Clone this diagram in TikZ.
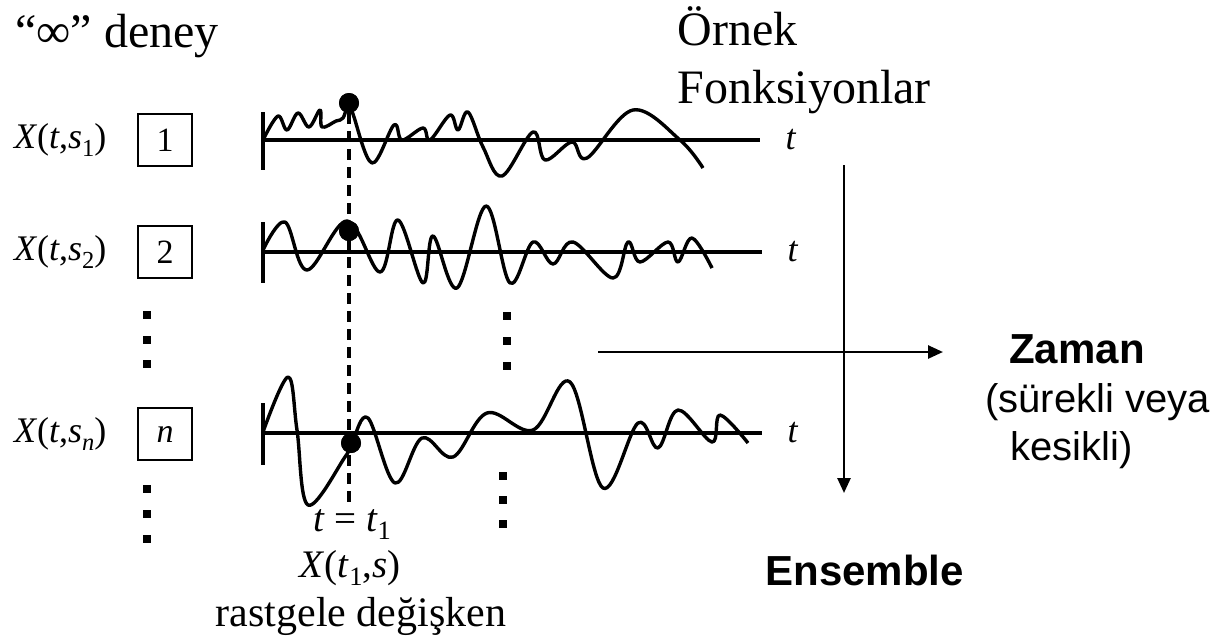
\documentclass[tikz,border=0pt]{standalone}
\usepackage{fontspec}
\setmainfont{Liberation Serif}
\setsansfont{Liberation Sans}
\usetikzlibrary{positioning,arrows.meta}
\newcommand{\lowsub}[1]{\raisebox{-0.22em}{\scalebox{0.68}{#1}}}

\begin{document}
\begin{tikzpicture}[x=0.5pt,y=-0.5pt,
  txt/.style={inner sep=0pt,font=\fontsize{24}{28}\selectfont},
  lbl/.style={inner sep=0pt,font=\fontsize{18}{21}\selectfont},
  lblbig/.style={inner sep=0pt,font=\fontsize{19.5}{22}\selectfont},
  sans/.style={inner sep=0pt,font=\sffamily\fontsize{20}{24}\selectfont},
  sansbold/.style={inner sep=0pt,font=\sffamily\bfseries\fontsize{21}{24}\selectfont},
  trial/.style={draw,line width=1.2pt,minimum width=27pt,minimum height=26pt,inner sep=0pt,font=\fontsize{17}{20}\selectfont},
  wave/.style={line width=1.7pt,line join=round},
  axis/.style={line width=1.7pt},
  hit/.style={circle,fill,inner sep=0pt,minimum size=10pt},
  sq/.style={fill,inner sep=0pt,minimum size=4.2pt}]
\useasboundingbox (0,0) rectangle (1210,639);

% titles
\node[txt,anchor=base west] (deney) at (15,47) {“∞” deney};
\node[txt,anchor=base west] (ornek) at (677,45) {Örnek};
\node[txt,anchor=base west] (fonk) at (677,103) {Fonksiyonlar};

% trials
\node[trial] (b1) at (165,140) {1};
\node[trial] (b2) at (165,252) {2};
\node[trial] (bn) at (165,434) {\textit{n}};
\node[lbl,left=15pt of b1] (x1) {\textit{X}(\textit{t},\textit{s}\lowsub{1})};
\node[lbl,left=15pt of b2] (x2) {\textit{X}(\textit{t},\textit{s}\lowsub{2})};
\node[lbl,left=15pt of bn] (xn) {\textit{X}(\textit{t},\textit{s}\lowsub{\textit{n}})};

% sample time t = t1
\node[hit] (p1) at (349,103) {};
\node[hit] (p2) at (349,231) {};
\node[hit] (pn) at (351,443) {};
\coordinate (cut) at (349,505);
\draw[line width=1.6pt,dash pattern=on 5.5pt off 3.5pt] (p1) -- (cut);

% axes
\draw[axis] (263,112) -- (263,170);
\draw[axis] (263,140) -- (760,140) node[lbl,right=12pt] (t1) {\textit{t}};
\draw[axis] (263,222) -- (263,283);
\draw[axis] (263,252) -- (762,252) node[lbl,right=12pt] (t2) {\textit{t}};
\draw[axis] (263,403) -- (263,465);
\draw[axis] (263,433) -- (762,433) node[lbl,right=12pt] (tn) {\textit{t}};

% sample functions
\draw[wave] plot[smooth,tension=0.6] coordinates {(264,138) (278,116) (287,130) (298,113) (309,127) (320,110) (322,127) (336,121) (343,118) (349,103)
  (353,114) (372,163) (394,125) (402,140) (423,128) (430,140) (450,115) (458,130) (468,112) (483,147) (502,176)
  (533,132) (545,160) (572,142) (587,158) (633,110) (680,140) (703,168)};
\draw[wave] plot[smooth,tension=0.6] coordinates {(263,250) (285,222) (307,270) (347,221) (380,272) (398,220) (423,283) (433,236)
  (457,288) (486,206) (510,283) (533,242) (553,264) (573,242) (613,278) (628,242) (640,262) (668,242) (678,262)
  (692,238) (712,268)};
\draw[wave] plot[smooth,tension=0.6] coordinates {(263,432) (288,377) (297,430) (308,505) (345,457) (352,443) (368,418) (395,483) (422,438)
  (453,457) (487,413) (533,430) (570,382) (603,488) (638,423) (658,448) (678,410) (712,442) (720,415) (748,443)};
\node[hit] at (p1) {};
\node[hit] at (p2) {};
\node[hit] at (pn) {};

% dots
\node[sq] (l1) at (147,315) {};
\node[sq] (l2) at (147,340) {};
\node[sq] (l3) at (147,364) {};
\node[sq] (l4) at (147,489) {};
\node[sq] (l5) at (147,514) {};
\node[sq] (l6) at (147,539) {};
\node[sq] (m1) at (507,316) {};
\node[sq] (m2) at (507,341) {};
\node[sq] (m3) at (507,366) {};
\node[sq] (m4) at (503,476) {};
\node[sq] (m5) at (503,500) {};
\node[sq] (m6) at (503,524) {};

% time and ensemble directions
\coordinate (zl) at (598,352);
\coordinate (zr) at (943,352);
\coordinate (et) at (844,165);
\coordinate (eb) at (844,493);
\draw[line width=1.3pt,-{Triangle[length=7.5pt,width=6.5pt]}] (zl) -- (zr);
\draw[line width=1.3pt,-{Triangle[length=7.5pt,width=6.5pt]}] (et) -- (eb);
\node[sansbold,anchor=base] (zaman) at (1077,363) {Zaman};
\node[sans,anchor=base west] (surekli) at (985,412) {(sürekli veya};
\node[sans,anchor=base west] (kesikli) at (1010,460) {kesikli)};
\node[sansbold,anchor=base west] (ens) at (765,585) {Ensemble};

% random variable
\node[lblbig,anchor=base] (tt) at (352,531) {\textit{t} = \textit{t}\lowsub{1}};
\node[lblbig,anchor=base] (xt) at (350,577) {\textit{X}(\textit{t}\lowsub{1},\textit{s})};
\node[txt,font=\fontsize{21}{25}\selectfont,anchor=base] (rd) at (361,626) {rastgele değişken};
\end{tikzpicture}
\end{document}
